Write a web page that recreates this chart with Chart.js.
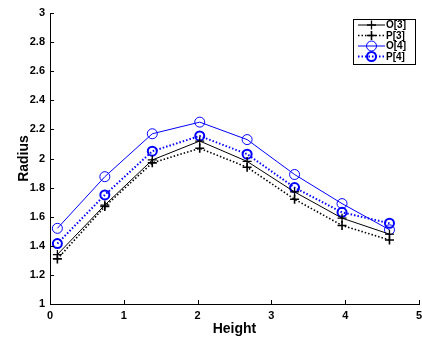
<!DOCTYPE html>
<html>
<head>
<meta charset="utf-8">
<script src="https://cdn.jsdelivr.net/npm/chart.js@4.4.1/dist/chart.umd.min.js"></script>
<style>
html,body{margin:0;padding:0;background:#fff;}
#wrap{width:422px;height:340px;}
</style>
</head>
<body>
<div id="wrap"><canvas id="c" width="422" height="340"></canvas></div>
<script>
const heights = [0.1, 0.743, 1.386, 2.029, 2.671, 3.314, 3.957, 4.6];
const O3 = [1.34, 1.68, 1.99, 2.12, 1.98, 1.77, 1.59, 1.48];
const P3 = [1.31, 1.67, 1.97, 2.07, 1.94, 1.72, 1.54, 1.44];
const O4 = [1.52, 1.875, 2.17, 2.25, 2.13, 1.89, 1.69, 1.51];
const P4 = [1.415, 1.75, 2.05, 2.155, 2.03, 1.80, 1.63, 1.555];
const seriesNames = ['O[3]', 'P[3]', 'O[4]', 'P[4]'];
const xTicks = [0, 1, 2, 3, 4, 5];
const yTicks = [1, 1.2, 1.4, 1.6, 1.8, 2, 2.2, 2.4, 2.6, 2.8, 3];

const pts = arr => arr.map((v, i) => ({x: heights[i], y: v}));

const styles = [
  {color:'#000', dash:[], lw:1, ps:'cross', r:4.5, plw:1.3},
  {color:'#000', dash:[1.5,2], lw:1.6, ps:'cross', r:4.5, plw:1.6},
  {color:'#0000ff', dash:[], lw:1, ps:'circle', r:5, plw:1},
  {color:'#0000ff', dash:[1.5,2], lw:2, ps:'circle', r:4.5, plw:2}
];
const values = [O3, P3, O4, P4];

const datasets = values.map((arr, i) => ({
  label: seriesNames[i],
  data: pts(arr),
  borderColor: styles[i].color,
  backgroundColor: 'rgba(0,0,0,0)',
  borderWidth: styles[i].lw,
  borderDash: styles[i].dash,
  pointStyle: styles[i].ps,
  pointRadius: styles[i].r,
  pointHoverRadius: styles[i].r,
  pointBorderWidth: styles[i].plw,
  pointBorderColor: styles[i].color,
  pointBackgroundColor: 'rgba(0,0,0,0)',
  tension: 0,
  fill: false
}));

const FONT = '"Liberation Sans", Arial, Helvetica, sans-serif';

const inwardTicks = {
  id: 'inwardTicks',
  afterDraw(chart) {
    const ctx = chart.ctx;
    const xs = chart.scales.x, ys = chart.scales.y;
    const a = chart.chartArea;
    ctx.save();
    ctx.strokeStyle = '#000';
    ctx.lineWidth = 1;
    ctx.beginPath();
    xTicks.forEach(t => {
      const px = Math.round(xs.getPixelForValue(t)) + 0.5;
      ctx.moveTo(px, a.bottom);
      ctx.lineTo(px, a.bottom - 4);
    });
    yTicks.forEach(t => {
      const py = Math.round(ys.getPixelForValue(t)) + 0.5;
      ctx.moveTo(a.left, py);
      ctx.lineTo(a.left + 4, py);
    });
    ctx.stroke();
    ctx.restore();
  }
};

const boxLegend = {
  id: 'boxLegend',
  afterDraw(chart) {
    const ctx = chart.ctx;
    const bx = 353.5, by = 19.5, bw = 62, bh = 45;
    ctx.save();
    ctx.fillStyle = '#fff';
    ctx.fillRect(bx, by, bw, bh);
    ctx.strokeStyle = '#000';
    ctx.lineWidth = 1;
    ctx.setLineDash([]);
    ctx.strokeRect(bx, by, bw, bh);
    const rows = [25, 35.5, 46, 56.5];
    chart.data.datasets.forEach((ds, i) => {
      const y = rows[i];
      const st = styles[i];
      ctx.strokeStyle = st.color;
      ctx.lineWidth = st.lw;
      ctx.setLineDash(st.dash);
      ctx.beginPath();
      ctx.moveTo(358, y);
      ctx.lineTo(385, y);
      ctx.stroke();
      ctx.setLineDash([]);
      ctx.lineWidth = st.plw;
      ctx.fillStyle = 'rgba(0,0,0,0)';
      Chart.helpers.drawPoint(ctx, {pointStyle: st.ps, radius: st.r, rotation: 0, borderWidth: st.plw}, 371.5, y);
      ctx.fillStyle = '#000';
      ctx.font = 'bold 10px ' + FONT;
      ctx.textBaseline = 'middle';
      ctx.textAlign = 'left';
      ctx.fillText(ds.label, 386, y + 0.5);
    });
    ctx.restore();
  }
};

new Chart(document.getElementById('c'), {
  type: 'line',
  data: { datasets },
  options: {
    responsive: false,
    animation: false,
    devicePixelRatio: 1,
    layout: { autoPadding: false, padding: { top: 13, right: 3, left: 0, bottom: 0 } },
    plugins: { legend: { display: false }, tooltip: { enabled: false } },
    scales: {
      x: {
        type: 'linear', min: 0, max: 5,
        afterFit(s) { s.height = 36; s.paddingRight = 0; s.paddingLeft = 0; },
        afterBuildTicks(s) { s.ticks = xTicks.map(v => ({value: v})); },
        grid: { drawOnChartArea: false, drawTicks: false },
        border: { display: true, color: '#000', width: 1 },
        ticks: { color: '#000', font: { family: FONT, size: 11, weight: 'bold' }, padding: 5, maxRotation: 0,
          callback: v => String(v) },
        title: { display: true, text: 'Height', color: '#000', font: { family: FONT, size: 14, weight: 'bold' }, padding: { top: 0, bottom: 2 } }
      },
      y: {
        type: 'linear', min: 1, max: 3,
        afterFit(s) { s.width = 50; s.paddingTop = 0; s.paddingBottom = 0; },
        afterBuildTicks(s) { s.ticks = yTicks.map(v => ({value: v})); },
        grid: { drawOnChartArea: false, drawTicks: false },
        border: { display: true, color: '#000', width: 1 },
        ticks: { color: '#000', font: { family: FONT, size: 11, weight: 'bold' }, padding: 5,
          callback: v => String(Math.round(v * 10) / 10) },
        title: { display: true, text: 'Radius', color: '#000', font: { family: FONT, size: 14, weight: 'bold' }, padding: { top: 16, bottom: 0 } }
      }
    }
  },
  plugins: [inwardTicks, boxLegend]
});
</script>
</body>
</html>
